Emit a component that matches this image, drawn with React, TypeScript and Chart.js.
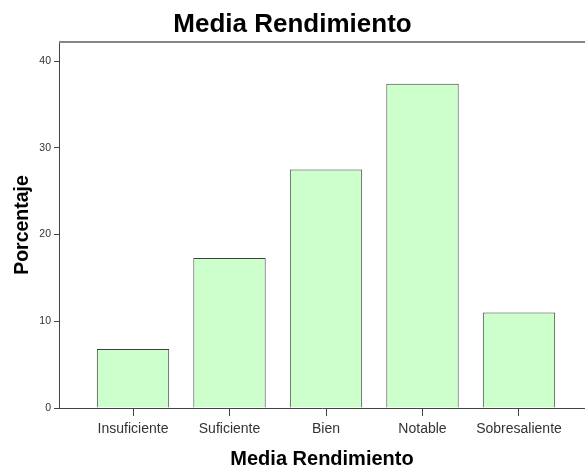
import { useEffect, useRef } from 'react';
import { Chart, registerables } from 'chart.js';

Chart.register(...registerables);

const categories: string[] = ['Insuficiente', 'Suficiente', 'Bien', 'Notable', 'Sobresaliente'];
const percentages: number[] = [6.8, 17.3, 27.5, 37.4, 11.0];
const chartTitle = 'Media Rendimiento';
const xAxisTitle = 'Media Rendimiento';
const yAxisTitle = 'Porcentaje';

const FONT = "'Liberation Sans', Arial, sans-serif";

const topBorder = {
  id: 'topBorder',
  afterDraw(chart: any) {
    const { ctx, chartArea } = chart;
    ctx.save();
    ctx.strokeStyle = '#858585';
    ctx.lineWidth = 2;
    ctx.beginPath();
    ctx.moveTo(chartArea.left, chartArea.top);
    ctx.lineTo(chartArea.right, chartArea.top);
    ctx.stroke();
    ctx.restore();
  },
};

export default function App() {
  const canvasRef = useRef<HTMLCanvasElement | null>(null);

  useEffect(() => {
    if (!canvasRef.current) return;
    const chart = new Chart(canvasRef.current, {
      type: 'bar',
      data: {
        datasets: [
          {
            data: percentages.map((v, i) => ({ x: i, y: v })),
            backgroundColor: '#ccffcc',
            borderColor: '#3f3f3f',
            borderWidth: 1,
            categoryPercentage: 1,
            barPercentage: 0.75,
          },
        ],
      },
      plugins: [topBorder],
      options: {
        animation: false,
        responsive: false,
        layout: { padding: 0 },
        plugins: {
          legend: { display: false },
          tooltip: { enabled: false },
          title: {
            display: true,
            text: chartTitle,
            color: '#000',
            font: { family: FONT, size: 26, weight: 'bold' },
            padding: { top: 9, bottom: 1.8 },
          },
        },
        scales: {
          x: {
            type: 'linear',
            offset: false,
            min: -0.767,
            max: 4.684,
            afterFit: (s: any) => {
              s.height = 58;
            },
            ticks: {
              stepSize: 1,
              includeBounds: false,
              color: '#333',
              padding: 5,
              font: { family: FONT, size: 14 },
              callback: (value: any) => categories[value as number] ?? '',
            },
            grid: {
              offset: false,
              drawOnChartArea: false,
              drawTicks: true,
              tickLength: 8,
              color: '#444',
              tickColor: '#444',
            },
            border: { display: true, color: '#444', width: 1 },
            title: {
              display: true,
              text: xAxisTitle,
              color: '#000',
              font: { family: FONT, size: 20, weight: 'bold', lineHeight: 0.65 },
              padding: { top: 0, bottom: 0 },
            },
          },
          y: {
            type: 'linear',
            min: 0,
            max: 42.2,
            afterFit: (s: any) => {
              s.width = 59;
            },
            ticks: {
              stepSize: 10,
              includeBounds: false,
              color: '#333',
              padding: 3,
              font: { family: FONT, size: 10.5 },
            },
            grid: {
              drawOnChartArea: false,
              drawTicks: true,
              tickLength: 5,
              color: '#444',
              tickColor: '#444',
            },
            border: { display: true, color: '#444', width: 1 },
            title: {
              display: true,
              text: yAxisTitle,
              color: '#000',
              font: { family: FONT, size: 19.5, weight: 'bold' },
              padding: { top: 11, bottom: 0 },
            },
          },
        },
      },
    } as any);
    return () => chart.destroy();
  }, []);

  return (
    <div style={{ position: 'absolute', left: 0, top: 0, width: 585, height: 466, background: '#fff' }}>
      <canvas ref={canvasRef} width={585} height={466} />
    </div>
  );
}
